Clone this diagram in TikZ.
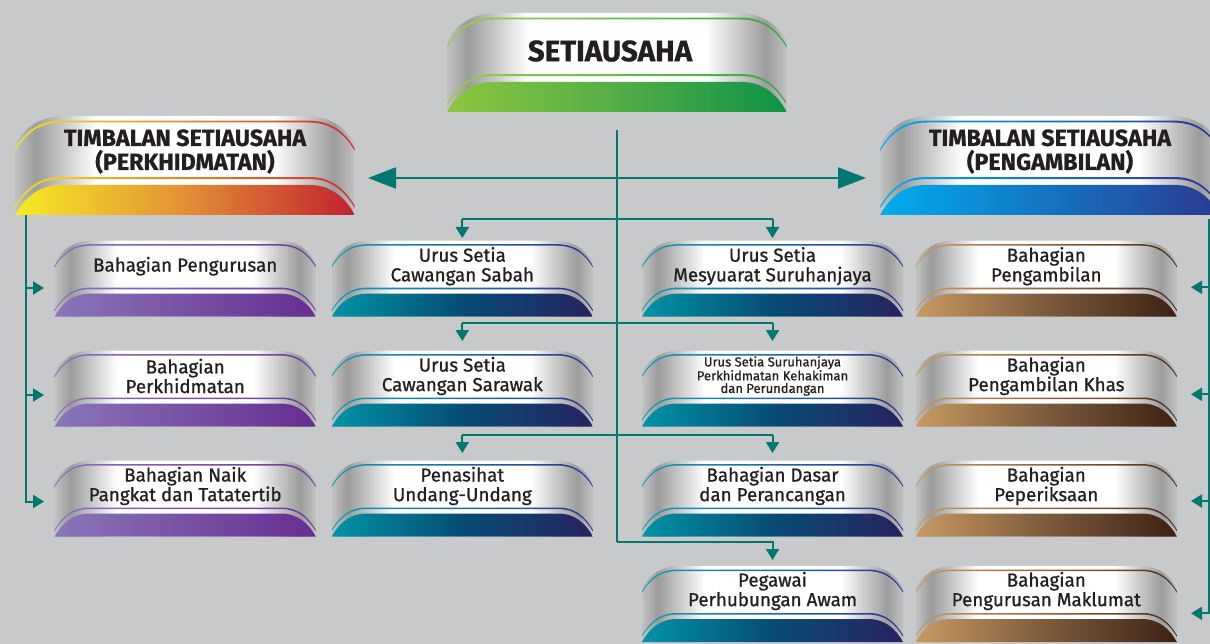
\documentclass[tikz,border=0pt]{standalone}
\usepackage{fontspec}
\setmainfont{Fira Sans}[BoldFeatures={FakeBold=0.8}]
\newfontfamily\medfont{Fira Sans}[FakeBold=0.9]
\usetikzlibrary{arrows.meta}
\definecolor{bg}{HTML}{C8C9CB}
\definecolor{conn}{HTML}{00776F}
\definecolor{txtc}{HTML}{231F20}
\definecolor{silA}{HTML}{C2C2C2}
\definecolor{silB}{HTML}{9C9C9C}
% purple
\definecolor{puL}{HTML}{8A76B9}\definecolor{puM}{HTML}{7752A4}\definecolor{puR}{HTML}{662D91}
\definecolor{pulL}{HTML}{8E70BA}\definecolor{pulR}{HTML}{6A3B9A}
% teal
\definecolor{teL}{HTML}{0094A6}\definecolor{teM}{HTML}{064C74}\definecolor{teR}{HTML}{28235F}
\definecolor{telL}{HTML}{11A0B1}\definecolor{telR}{HTML}{2E3192}
% brown
\definecolor{brL}{HTML}{C89A62}\definecolor{brM}{HTML}{7C5A3C}\definecolor{brR}{HTML}{3C2214}
\definecolor{brlL}{HTML}{C99C66}\definecolor{brlR}{HTML}{4A2C1A}
% green
\definecolor{grL}{HTML}{8DC63F}\definecolor{grM}{HTML}{52AE45}\definecolor{grR}{HTML}{0E9347}
\definecolor{grlL}{HTML}{9DCC4A}\definecolor{grlR}{HTML}{3AA64A}
% yellow-red
\definecolor{yeL}{HTML}{F6EB24}\definecolor{yeM}{HTML}{E38F35}\definecolor{yeR}{HTML}{C1222F}
\definecolor{yelL}{HTML}{F5E31E}\definecolor{yelR}{HTML}{D02A2F}
% blue
\definecolor{blL}{HTML}{00ADEF}\definecolor{blM}{HTML}{1473C2}\definecolor{blR}{HTML}{2B3990}
\definecolor{bllL}{HTML}{00AEEF}\definecolor{bllR}{HTML}{2E3192}
\pgfdeclarehorizontalshading{silver}{100bp}{color(0bp)=(silA); color(25bp)=(silA); color(28bp)=(silB); color(37bp)=(white); color(63bp)=(white); color(72bp)=(silB); color(75bp)=(silA); color(100bp)=(silA)}
% #1 node, #2 scale, #3-#5 band colours, #6-#7 line colours
\newcommand\orgshape[7]{%
\begin{scope}[shift={(#1.north west)}, scale=#2]
  \shade[shading=silver] (0,76) -- (0,22) .. controls (7,8) and (20,0) .. (38,0) -- (223,0) .. controls (241,0) and (254,8) .. (261,22) -- (261,76) -- cycle;
  \shade[left color=#6, right color=#7] (0,25) .. controls (9,10) and (20,3.5) .. (36,3.5) -- (225,3.5) .. controls (241,3.5) and (252,10) .. (261,25) -- (261,26.6) .. controls (252,11.6) and (241,5) .. (225,5) -- (36,5) .. controls (20,5) and (9,11.6) .. (0,26.6) -- cycle;
  \shade[left color=#6, right color=#7] (0,69) .. controls (8,56) and (18,47) .. (34,47) -- (227,47) .. controls (243,47) and (253,56) .. (261,69) -- (261,70.6) .. controls (253,57.6) and (243,48.6) .. (227,48.6) -- (34,48.6) .. controls (18,48.6) and (8,57.6) .. (0,70.6) -- cycle;
  \shade[left color=#3, right color=#5, middle color=#4] (0,76) .. controls (7,63) and (18,53) .. (35,53) -- (226,53) .. controls (243,53) and (254,63) .. (261,76) -- cycle;
\end{scope}}
\tikzset{
  smallbox/.style={minimum width=261pt, minimum height=76pt, inner sep=0pt, outer sep=0pt},
  bigbox/.style={minimum width=339.3pt, minimum height=98.8pt, inner sep=0pt, outer sep=0pt},
  txt/.style={align=center, inner sep=0pt, text=txtc, font=\medfont\fontsize{18.8}{19.6}\selectfont},
  tinytxt/.style={align=center, inner sep=0pt, text=txtc, font=\medfont\fontsize{13}{12.6}\selectfont},
  bigtxt/.style={align=center, inner sep=0pt, text=txtc, font=\fontsize{29.5}{30}\selectfont\bfseries},
  midtxt/.style={align=center, inner sep=0pt, text=txtc, font=\fontsize{23.3}{24}\selectfont\bfseries},
  conn/.style={draw=conn, line width=2pt},
  arr/.style={conn, -{Triangle[length=11pt, width=13pt]}},
  bigarr/.style={conn, {Triangle[length=28pt, width=21pt]}-{Triangle[length=28pt, width=21pt]}},
}
\begin{document}
\begin{tikzpicture}[x=1pt, y=-1pt]
\useasboundingbox (0,0) rectangle (1210,644);
\clip (0,0) rectangle (1210,644);
\fill[bg] (0,0) rectangle (1210,644);

% big boxes
\node[bigbox] (sa) at (617,62.4) {};
\node[bigbox] (tl) at (185,165.4) {};
\node[bigbox] (tr) at (1050,165.4) {};
\orgshape{sa}{1.3}{grL}{grM}{grR}{grlL}{grlR}
\orgshape{tl}{1.3}{yeL}{yeM}{yeR}{yelL}{yelR}
\orgshape{tr}{1.3}{blL}{blM}{blR}{bllL}{bllR}
\node[bigtxt] (sat) at (610,51) {SETIAUSAHA};
\node[midtxt] (tlt) at (185,151.5) {TIMBALAN SETIAUSAHA\\(PERKHIDMATAN)};
\node[midtxt] (trt) at (1050,151.5) {TIMBALAN SETIAUSAHA\\(PENGAMBILAN)};

% small boxes
\node[smallbox] (b11) at (185.2,278.7) {};
\node[smallbox] (b12) at (462.3,278.7) {};
\node[smallbox] (b13) at (772.5,278.7) {};
\node[smallbox] (b14) at (1046.3,278.7) {};
\node[smallbox] (b21) at (185.2,388.5) {};
\node[smallbox] (b22) at (462.3,388.5) {};
\node[smallbox] (b23) at (772.5,388.5) {};
\node[smallbox] (b24) at (1046.3,388.5) {};
\node[smallbox] (b31) at (185.2,498.5) {};
\node[smallbox] (b32) at (462.3,498.5) {};
\node[smallbox] (b33) at (772.5,498.5) {};
\node[smallbox] (b34) at (1046.3,498.5) {};
\node[smallbox] (b43) at (772.5,604) {};
\node[smallbox] (b44) at (1046.3,604) {};

\orgshape{b11}{1}{puL}{puM}{puR}{pulL}{pulR}
\orgshape{b21}{1}{puL}{puM}{puR}{pulL}{pulR}
\orgshape{b31}{1}{puL}{puM}{puR}{pulL}{pulR}
\orgshape{b12}{1}{teL}{teM}{teR}{telL}{telR}
\orgshape{b22}{1}{teL}{teM}{teR}{telL}{telR}
\orgshape{b32}{1}{teL}{teM}{teR}{telL}{telR}
\orgshape{b13}{1}{teL}{teM}{teR}{telL}{telR}
\orgshape{b23}{1}{teL}{teM}{teR}{telL}{telR}
\orgshape{b33}{1}{teL}{teM}{teR}{telL}{telR}
\orgshape{b43}{1}{teL}{teM}{teR}{telL}{telR}
\orgshape{b14}{1}{brL}{brM}{brR}{brlL}{brlR}
\orgshape{b24}{1}{brL}{brM}{brR}{brlL}{brlR}
\orgshape{b34}{1}{brL}{brM}{brR}{brlL}{brlR}
\orgshape{b44}{1}{brL}{brM}{brR}{brlL}{brlR}

\node[txt] (t11) at (185.2,266.2) {Bahagian Pengurusan};
\node[txt] (t12) at (462.3,266.2) {Urus Setia\\Cawangan Sabah};
\node[txt] (t13) at (772.5,266.2) {Urus Setia\\Mesyuarat Suruhanjaya};
\node[txt] (t14) at (1046.3,266.2) {Bahagian\\Pengambilan};
\node[txt] (t21) at (185.2,376) {Bahagian\\Perkhidmatan};
\node[txt] (t22) at (462.3,376) {Urus Setia\\Cawangan Sarawak};
\node[tinytxt] (t23) at (772.5,376) {Urus Setia Suruhanjaya\\Perkhidmatan Kehakiman\\dan Perundangan};
\node[txt] (t24) at (1046.3,376) {Bahagian\\Pengambilan Khas};
\node[txt] (t31) at (185.2,486) {Bahagian Naik\\Pangkat dan Tatatertib};
\node[txt] (t32) at (462.3,486) {Penasihat\\Undang-Undang};
\node[txt] (t33) at (772.5,486) {Bahagian Dasar\\dan Perancangan};
\node[txt] (t34) at (1046.3,486) {Bahagian\\Peperiksaan};
\node[txt] (t43) at (772.5,591) {Pegawai\\Perhubungan Awam};
\node[txt] (t44) at (1046.3,591) {Bahagian\\Pengurusan Maklumat};

% connectors
\coordinate (tt) at (617,130);
\coordinate (tb) at (617,542);
\coordinate (hmL) at (368,178);
\coordinate (hmR) at (866,178);
\coordinate (h1) at (617,219.3);
\coordinate (h2) at (617,322.7);
\coordinate (h3) at (617,435);
\draw[conn] (tt) -- (tb);
\draw[bigarr] (hmL) -- (hmR);
\draw[conn] (h1 -| b12.north) -- (h1 -| b13.north);
\draw[arr] (h1 -| b12.north) -- ([yshift=2.7pt]b12.north);
\draw[arr] (h1 -| b13.north) -- ([yshift=2.7pt]b13.north);
\draw[conn] (h2 -| b22.north) -- (h2 -| b23.north);
\draw[arr] (h2 -| b22.north) -- ([yshift=9.5pt]b22.north);
\draw[arr] (h2 -| b23.north) -- ([yshift=9.5pt]b23.north);
\draw[conn] (h3 -| b32.north) -- (h3 -| b33.north);
\draw[arr] (h3 -| b32.north) -- ([yshift=7.5pt]b32.north);
\draw[arr] (h3 -| b33.north) -- ([yshift=7.5pt]b33.north);
\draw[arr] (tb) -| ([yshift=6pt]b43.north);

% left branch
\coordinate (lt) at (25.5,215);
\coordinate (la1) at (44,288);
\coordinate (la2) at (44,395);
\coordinate (la3) at (44,501.5);
\draw[arr] (lt) |- (la3);
\draw[arr] (lt |- la1) -- (la1);
\draw[arr] (lt |- la2) -- (la2);

% right branch
\coordinate (rt) at (1209,219);
\coordinate (ra1) at (1191,287.3);
\coordinate (ra2) at (1191,394.3);
\coordinate (ra3) at (1191,501);
\coordinate (ra4) at (1191,613.3);
\draw[arr] (rt) |- (ra4);
\draw[arr] (rt |- ra1) -- (ra1);
\draw[arr] (rt |- ra2) -- (ra2);
\draw[arr] (rt |- ra3) -- (ra3);
\end{tikzpicture}
\end{document}
